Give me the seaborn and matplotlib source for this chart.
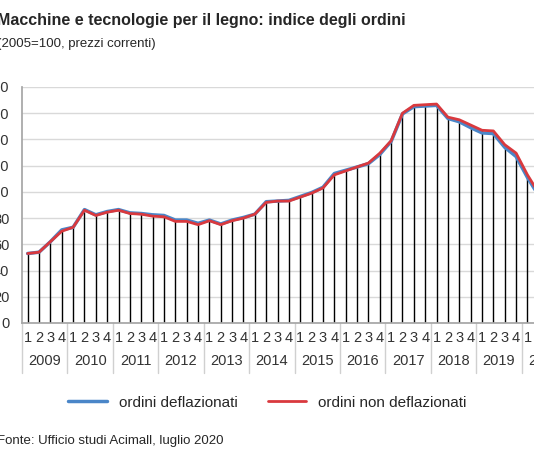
import matplotlib
matplotlib.use("Agg")
import matplotlib.pyplot as plt
import seaborn as sns
import pandas as pd
import numpy as np
from matplotlib.transforms import blended_transform_factory

years = list(range(2009, 2021))
quarters = ["1", "2", "3", "4"]
non_defl = [53, 54, 62, 70, 73, 86, 82, 84.5, 86, 83.5, 83, 81.5, 81, 77.5, 77.5, 75,
            78, 75, 78, 80, 83, 92, 93, 93, 96, 99, 103, 113, 116, 119, 122, 129.5,
            139, 160, 166, 166.5, 167, 157, 155, 151, 147, 146.5, 136, 129.6, 113, 99]
defl = [53, 54, 62, 71, 73, 86.5, 82.5, 85, 86.5, 84, 83.5, 82.5, 82, 78.5, 78.5, 76,
        78.5, 75.5, 78.5, 80.5, 83, 92.5, 93, 93.5, 96.5, 99.5, 103.5, 114, 116.5, 119, 121.5, 128.5,
        138.5, 159.5, 165, 165.5, 166, 156, 153.5, 149, 145, 144.5, 134, 127, 111, 97]
n = len(non_defl)
labels = [quarters[i % 4] for i in range(n)]
df = pd.DataFrame({"x": np.arange(n), "defl": defl, "nondefl": non_defl})

sns.set_theme(style="white")
plt.rcParams['font.family'] = ['Liberation Sans', 'DejaVu Sans']
fig = plt.figure(figsize=(5.34, 4.62), dpi=100)
L = 22/534; W = (27 + 45.5*11.25 + 5.6 - 22)/534
ax = fig.add_axes([L, (462-323)/462, W, (323-87)/462])
ax.set_ylim(0, 180)
ax.set_xlim(-0.5, n - 0.5)
ax.set_yticks(range(0, 181, 20))
ax.yaxis.grid(True, color="#d9d9d9", lw=1)
ax.set_axisbelow(True)
ax.vlines(df["x"], 0, np.maximum(df["defl"], df["nondefl"]), color="black", lw=1, zorder=2)
sns.lineplot(data=df, x="x", y="defl", ax=ax, color="#4a86c8", lw=2.5, label="ordini deflazionati", zorder=3)
sns.lineplot(data=df, x="x", y="nondefl", ax=ax, color="#d9393e", lw=2.0, label="ordini non deflazionati", zorder=4)
for s in ["top", "right"]:
    ax.spines[s].set_visible(False)
ax.spines["left"].set_color("#a6a6a6")
ax.spines["bottom"].set_color("#a6a6a6")
ax.set_xticks(range(n))
ax.set_xticklabels(labels, fontsize=10.5, color="#333333")
ax.tick_params(axis="x", length=0, pad=6)
ax.tick_params(axis="y", length=0, labelsize=10.5, labelcolor="#333333", pad=9)
ax.set_xlabel(""); ax.set_ylabel("")
tr = blended_transform_factory(ax.transData, ax.transAxes)
for i, y in enumerate(years):
    c = 4*i + 1.5
    ax.text(c, -0.16, str(y), transform=tr, ha="center", va="center", fontsize=10.5, color="#333333")
    ax.plot([4*i - 0.5]*2, [0, -0.21], transform=tr, color="#d0d0d0", lw=1, clip_on=False)
ax.legend(loc="upper center", bbox_to_anchor=(0.47, -0.25), ncol=2, frameon=False, fontsize=11,
          handlelength=2.5, columnspacing=2)
fig.text(-0.005, 0.955, "Macchine e tecnologie per il legno: indice degli ordini", fontsize=11.5,
         fontweight="bold", ha="left", va="center")
fig.text(-0.005, 0.905, "(2005=100, prezzi correnti)", fontsize=9.5, ha="left", va="center")
fig.text(-0.005, 0.045, "Fonte: Ufficio studi Acimall, luglio 2020", fontsize=9.5, ha="left", va="center")
fig.savefig("out.png", dpi=100)
